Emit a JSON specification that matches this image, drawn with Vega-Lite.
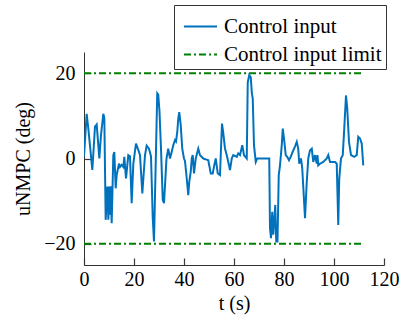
{
  "$schema": "https://vega.github.io/schema/vega-lite/v6.json",
  "width": 300,
  "height": 213,
  "autosize": {"type": "none"},
  "padding": {"left": 84, "top": 52, "right": 16, "bottom": 57},
  "background": "white",
  "config": {
    "view": {"stroke": null},
    "font": "Liberation Serif",
    "axis": {
      "labelFont": "Liberation Serif",
      "titleFont": "Liberation Serif",
      "labelFontSize": 20,
      "titleFontSize": 20,
      "labelColor": "black",
      "titleColor": "black",
      "domainColor": "#333333",
      "tickColor": "#3a3a3a",
      "domainWidth": 1,
      "tickWidth": 1.2,
      "ticks": true,
      "grid": false,
      "labelFlush": false,
      "titleFontWeight": "normal"
    },
    "legend": {
      "labelFont": "Liberation Serif",
      "labelFontSize": 21,
      "labelColor": "black"
    }
  },
  "data": {
    "values": [
      {"t": 0, "u": 0.5, "s": "Control input", "g": "a"},
      {"t": 1.07, "u": 10.5, "s": "Control input", "g": "a"},
      {"t": 1.73, "u": 7, "s": "Control input", "g": "a"},
      {"t": 2.4, "u": 3, "s": "Control input", "g": "a"},
      {"t": 3.33, "u": -2.7, "s": "Control input", "g": "a"},
      {"t": 4.4, "u": 7.5, "s": "Control input", "g": "a"},
      {"t": 5.07, "u": 8, "s": "Control input", "g": "a"},
      {"t": 6.13, "u": 0, "s": "Control input", "g": "a"},
      {"t": 6.8, "u": 5.5, "s": "Control input", "g": "a"},
      {"t": 7.73, "u": 10.5, "s": "Control input", "g": "a"},
      {"t": 8.13, "u": 9.5, "s": "Control input", "g": "a"},
      {"t": 8.67, "u": -14.4, "s": "Control input", "g": "a"},
      {"t": 9.33, "u": -6.6, "s": "Control input", "g": "a"},
      {"t": 9.73, "u": -14.4, "s": "Control input", "g": "a"},
      {"t": 10.13, "u": -6.6, "s": "Control input", "g": "a"},
      {"t": 10.4, "u": -13.2, "s": "Control input", "g": "a"},
      {"t": 10.67, "u": -6.5, "s": "Control input", "g": "a"},
      {"t": 11.07, "u": -15.2, "s": "Control input", "g": "a"},
      {"t": 11.73, "u": 0.8, "s": "Control input", "g": "a"},
      {"t": 12.13, "u": 1.5, "s": "Control input", "g": "a"},
      {"t": 12.67, "u": -7, "s": "Control input", "g": "a"},
      {"t": 13.07, "u": -3.9, "s": "Control input", "g": "a"},
      {"t": 14, "u": -1.2, "s": "Control input", "g": "a"},
      {"t": 14.4, "u": -2, "s": "Control input", "g": "a"},
      {"t": 15.07, "u": -1.5, "s": "Control input", "g": "a"},
      {"t": 15.73, "u": -2, "s": "Control input", "g": "a"},
      {"t": 16.13, "u": 0.4, "s": "Control input", "g": "a"},
      {"t": 16.8, "u": -4.7, "s": "Control input", "g": "a"},
      {"t": 17.73, "u": 0.8, "s": "Control input", "g": "a"},
      {"t": 18.4, "u": 0.5, "s": "Control input", "g": "a"},
      {"t": 19.07, "u": -10.5, "s": "Control input", "g": "a"},
      {"t": 19.73, "u": -1.2, "s": "Control input", "g": "a"},
      {"t": 20.8, "u": 3.5, "s": "Control input", "g": "a"},
      {"t": 21.73, "u": 2, "s": "Control input", "g": "a"},
      {"t": 22.4, "u": 0.8, "s": "Control input", "g": "a"},
      {"t": 23.33, "u": -8.2, "s": "Control input", "g": "a"},
      {"t": 24.4, "u": 0.8, "s": "Control input", "g": "a"},
      {"t": 25.07, "u": 3, "s": "Control input", "g": "a"},
      {"t": 26, "u": 2.3, "s": "Control input", "g": "a"},
      {"t": 26.8, "u": 0.5, "s": "Control input", "g": "a"},
      {"t": 27.5, "u": -14, "s": "Control input", "g": "a"},
      {"t": 28, "u": -19.5, "s": "Control input", "g": "a"},
      {"t": 29.3, "u": 15.3, "s": "Control input", "g": "a"},
      {"t": 29.7, "u": 15, "s": "Control input", "g": "a"},
      {"t": 30.2, "u": 11, "s": "Control input", "g": "a"},
      {"t": 30.8, "u": 2.3, "s": "Control input", "g": "a"},
      {"t": 31.5, "u": -9.7, "s": "Control input", "g": "a"},
      {"t": 32, "u": -10.5, "s": "Control input", "g": "a"},
      {"t": 33, "u": 0, "s": "Control input", "g": "a"},
      {"t": 33.7, "u": 2.3, "s": "Control input", "g": "a"},
      {"t": 34.4, "u": 0, "s": "Control input", "g": "a"},
      {"t": 35.1, "u": 1.6, "s": "Control input", "g": "a"},
      {"t": 35.7, "u": 3.1, "s": "Control input", "g": "a"},
      {"t": 36.4, "u": 4.3, "s": "Control input", "g": "a"},
      {"t": 36.8, "u": 4, "s": "Control input", "g": "a"},
      {"t": 37.3, "u": 6.2, "s": "Control input", "g": "a"},
      {"t": 37.7, "u": 9.3, "s": "Control input", "g": "a"},
      {"t": 38.1, "u": 10.9, "s": "Control input", "g": "a"},
      {"t": 38.7, "u": 7.8, "s": "Control input", "g": "a"},
      {"t": 39.3, "u": 2.3, "s": "Control input", "g": "a"},
      {"t": 40, "u": 0, "s": "Control input", "g": "a"},
      {"t": 40.4, "u": -0.6, "s": "Control input", "g": "a"},
      {"t": 41.1, "u": -4.7, "s": "Control input", "g": "a"},
      {"t": 41.7, "u": -8.6, "s": "Control input", "g": "a"},
      {"t": 42.1, "u": -5.5, "s": "Control input", "g": "a"},
      {"t": 42.7, "u": -3.1, "s": "Control input", "g": "a"},
      {"t": 43.1, "u": 0, "s": "Control input", "g": "a"},
      {"t": 43.5, "u": 0.8, "s": "Control input", "g": "a"},
      {"t": 44, "u": -3.5, "s": "Control input", "g": "a"},
      {"t": 44.7, "u": 0, "s": "Control input", "g": "a"},
      {"t": 45.7, "u": 2.3, "s": "Control input", "g": "a"},
      {"t": 46.4, "u": 0.8, "s": "Control input", "g": "a"},
      {"t": 47.7, "u": 0, "s": "Control input", "g": "a"},
      {"t": 49.7, "u": -0.4, "s": "Control input", "g": "a"},
      {"t": 50.7, "u": -3.5, "s": "Control input", "g": "a"},
      {"t": 51.5, "u": -3.5, "s": "Control input", "g": "a"},
      {"t": 52.1, "u": -1.6, "s": "Control input", "g": "a"},
      {"t": 52.7, "u": 0, "s": "Control input", "g": "a"},
      {"t": 53.5, "u": -3.5, "s": "Control input", "g": "a"},
      {"t": 54.4, "u": -3.9, "s": "Control input", "g": "a"},
      {"t": 54.8, "u": 2.3, "s": "Control input", "g": "a"},
      {"t": 55.2, "u": 8.2, "s": "Control input", "g": "a"},
      {"t": 55.7, "u": 6, "s": "Control input", "g": "a"},
      {"t": 56.4, "u": 2.3, "s": "Control input", "g": "a"},
      {"t": 57.1, "u": 0.8, "s": "Control input", "g": "a"},
      {"t": 57.7, "u": -0.8, "s": "Control input", "g": "a"},
      {"t": 58.4, "u": -2.7, "s": "Control input", "g": "a"},
      {"t": 59.1, "u": 0, "s": "Control input", "g": "a"},
      {"t": 59.7, "u": 0.8, "s": "Control input", "g": "a"},
      {"t": 61.1, "u": 0.4, "s": "Control input", "g": "a"},
      {"t": 61.7, "u": 1.2, "s": "Control input", "g": "a"},
      {"t": 62.4, "u": 0.8, "s": "Control input", "g": "a"},
      {"t": 63.3, "u": 3.1, "s": "Control input", "g": "a"},
      {"t": 64, "u": 0.8, "s": "Control input", "g": "a"},
      {"t": 65.1, "u": 0, "s": "Control input", "g": "a"},
      {"t": 65.5, "u": 17.9, "s": "Control input", "g": "a"},
      {"t": 66.1, "u": 19.6, "s": "Control input", "g": "a"},
      {"t": 66.7, "u": 19.1, "s": "Control input", "g": "a"},
      {"t": 67.1, "u": 15.6, "s": "Control input", "g": "a"},
      {"t": 67.5, "u": 14, "s": "Control input", "g": "a"},
      {"t": 68, "u": 3.1, "s": "Control input", "g": "a"},
      {"t": 68.7, "u": -0.8, "s": "Control input", "g": "a"},
      {"t": 69.3, "u": 0, "s": "Control input", "g": "a"},
      {"t": 70.4, "u": 0, "s": "Control input", "g": "a"},
      {"t": 74.1, "u": 0, "s": "Control input", "g": "a"},
      {"t": 74.4, "u": -16.4, "s": "Control input", "g": "a"},
      {"t": 74.8, "u": -18.7, "s": "Control input", "g": "a"},
      {"t": 75.3, "u": -12.5, "s": "Control input", "g": "a"},
      {"t": 75.7, "u": -17.9, "s": "Control input", "g": "a"},
      {"t": 76.1, "u": -14.8, "s": "Control input", "g": "a"},
      {"t": 76.5, "u": -10.9, "s": "Control input", "g": "a"},
      {"t": 76.9, "u": -19.5, "s": "Control input", "g": "a"},
      {"t": 77.4, "u": -19.5, "s": "Control input", "g": "a"},
      {"t": 77.9, "u": -3.9, "s": "Control input", "g": "a"},
      {"t": 78.4, "u": -1.6, "s": "Control input", "g": "a"},
      {"t": 79.1, "u": 3.1, "s": "Control input", "g": "a"},
      {"t": 79.5, "u": 7, "s": "Control input", "g": "a"},
      {"t": 80, "u": 4.7, "s": "Control input", "g": "a"},
      {"t": 80.7, "u": 0.8, "s": "Control input", "g": "a"},
      {"t": 81.3, "u": 0.4, "s": "Control input", "g": "a"},
      {"t": 82, "u": -0.4, "s": "Control input", "g": "a"},
      {"t": 82.7, "u": 0.4, "s": "Control input", "g": "a"},
      {"t": 83.5, "u": 1.6, "s": "Control input", "g": "a"},
      {"t": 84.4, "u": 2.8, "s": "Control input", "g": "a"},
      {"t": 85.1, "u": 3.9, "s": "Control input", "g": "a"},
      {"t": 85.7, "u": 2.3, "s": "Control input", "g": "a"},
      {"t": 86.1, "u": -1.2, "s": "Control input", "g": "a"},
      {"t": 86.8, "u": 0, "s": "Control input", "g": "a"},
      {"t": 87.3, "u": -2.3, "s": "Control input", "g": "a"},
      {"t": 88.4, "u": -14, "s": "Control input", "g": "a"},
      {"t": 89.1, "u": -5.5, "s": "Control input", "g": "a"},
      {"t": 89.7, "u": 0, "s": "Control input", "g": "a"},
      {"t": 90.4, "u": 1.9, "s": "Control input", "g": "a"},
      {"t": 91.1, "u": 2.3, "s": "Control input", "g": "a"},
      {"t": 91.7, "u": -0.8, "s": "Control input", "g": "a"},
      {"t": 92.4, "u": 0.8, "s": "Control input", "g": "a"},
      {"t": 93.1, "u": -1.2, "s": "Control input", "g": "a"},
      {"t": 93.4, "u": 0.8, "s": "Control input", "g": "a"},
      {"t": 93.7, "u": -1.6, "s": "Control input", "g": "a"},
      {"t": 94.4, "u": -1.2, "s": "Control input", "g": "a"},
      {"t": 95.7, "u": -0.8, "s": "Control input", "g": "a"},
      {"t": 97.1, "u": 0, "s": "Control input", "g": "a"},
      {"t": 97.7, "u": 0.8, "s": "Control input", "g": "a"},
      {"t": 98.4, "u": -0.8, "s": "Control input", "g": "a"},
      {"t": 100.4, "u": -0.8, "s": "Control input", "g": "a"},
      {"t": 101.1, "u": -1.2, "s": "Control input", "g": "a"},
      {"t": 101.7, "u": -15.6, "s": "Control input", "g": "a"},
      {"t": 102.1, "u": -4.7, "s": "Control input", "g": "a"},
      {"t": 102.8, "u": 0, "s": "Control input", "g": "a"},
      {"t": 103.5, "u": 0.8, "s": "Control input", "g": "a"},
      {"t": 104.1, "u": 7, "s": "Control input", "g": "a"},
      {"t": 104.8, "u": 14.8, "s": "Control input", "g": "a"},
      {"t": 105.3, "u": 11.7, "s": "Control input", "g": "a"},
      {"t": 106, "u": 3.9, "s": "Control input", "g": "a"},
      {"t": 106.8, "u": 0.8, "s": "Control input", "g": "a"},
      {"t": 108.1, "u": 0.4, "s": "Control input", "g": "a"},
      {"t": 109.1, "u": 0.8, "s": "Control input", "g": "a"},
      {"t": 109.7, "u": 5.1, "s": "Control input", "g": "a"},
      {"t": 110.4, "u": 4.7, "s": "Control input", "g": "a"},
      {"t": 111.1, "u": 3.5, "s": "Control input", "g": "a"},
      {"t": 111.7, "u": -1.6, "s": "Control input", "g": "a"},
      {"t": 0, "u": 20, "s": "Control input limit", "g": "up"},
      {"t": 112, "u": 20, "s": "Control input limit", "g": "up"},
      {"t": 0, "u": -20, "s": "Control input limit", "g": "lo"},
      {"t": 112, "u": -20, "s": "Control input limit", "g": "lo"}
    ]
  },
  "mark": {"type": "line", "strokeWidth": 2, "clip": true},
  "encoding": {
    "x": {
      "field": "t",
      "type": "quantitative",
      "scale": {"domain": [0, 120], "nice": false, "zero": false},
      "axis": {"values": [0, 20, 40, 60, 80, 100, 120], "tickSize": -7, "labelPadding": 11, "title": "t (s)", "titlePadding": 4}
    },
    "y": {
      "field": "u",
      "type": "quantitative",
      "scale": {"domain": [-25, 25], "nice": false, "zero": false},
      "axis": {"values": [-20, 0, 20], "tickSize": -7, "labelPadding": 16, "title": "uNMPC (deg)", "titlePadding": 10, "labelExpr": "replace(datum.label, '-', '−')"}
    },
    "color": {
      "field": "s",
      "type": "nominal",
      "scale": {"domain": ["Control input", "Control input limit"], "range": ["#0072BD", "#008000"]},
      "legend": {
        "title": null,
        "orient": "none",
        "legendX": 90,
        "legendY": -47,
        "strokeColor": "#333333",
        "fillColor": "white",
        "padding": 4,
        "symbolOffset": 5,
        "symbolType": "stroke",
        "symbolSize": 1089,
        "symbolStrokeWidth": 2,
        "rowPadding": -12,
        "labelOffset": 6,
        "labelFont": "Liberation Serif",
        "labelFontSize": 21,
        "labelExpr": "datum.label + ' '"
      }
    },
    "strokeDash": {
      "field": "s",
      "type": "nominal",
      "scale": {"domain": ["Control input", "Control input limit"], "range": [[1, 0], [7, 3, 2, 3]]},
      "legend": {
        "title": null,
        "orient": "none",
        "legendX": 90,
        "legendY": -47,
        "strokeColor": "#333333",
        "fillColor": "white",
        "padding": 4,
        "symbolOffset": 5,
        "symbolType": "stroke",
        "symbolSize": 1089,
        "symbolStrokeWidth": 2,
        "rowPadding": -12,
        "labelOffset": 6,
        "labelFont": "Liberation Serif",
        "labelFontSize": 21,
        "labelExpr": "datum.label + ' '"
      }
    },
    "detail": {"field": "g"},
    "order": {"field": "t", "type": "quantitative"}
  }
}
